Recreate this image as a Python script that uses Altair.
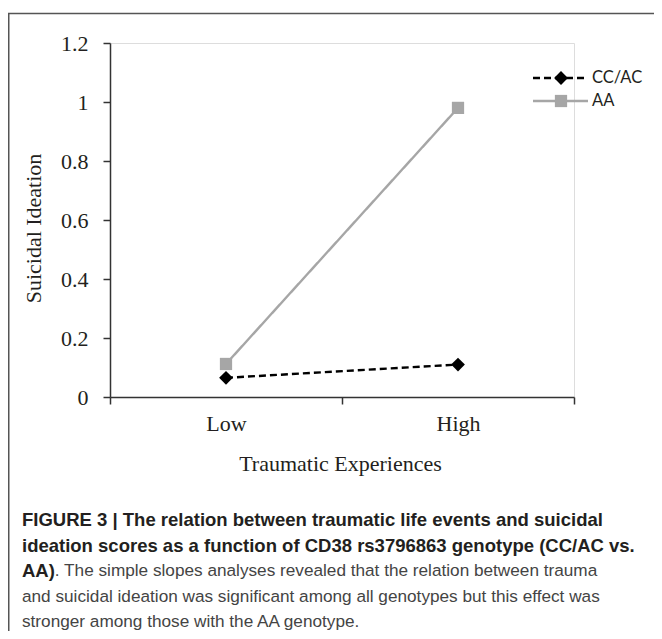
import altair as alt
import pandas as pd

# ---- data ----
trauma_levels = ["Low", "High"]
genotypes = ["CC/AC", "AA"]
cc_ac_values = [0.065, 0.11]
aa_values = [0.112, 0.98]
y_ticks = [0, 0.2, 0.4, 0.6, 0.8, 1.0, 1.2]

caption_bold = [
    "FIGURE 3 | The relation between traumatic life events and suicidal",
    "ideation scores as a function of CD38 rs3796863 genotype (CC/AC vs.",
]
caption_bold_start = "AA)"
caption_normal = [
    ". The simple slopes analyses revealed that the relation between trauma",
    "and suicidal ideation was significant among all genotypes but this effect was",
    "stronger among those with the AA genotype.",
]

rows = []
for t, v in zip(trauma_levels, cc_ac_values):
    rows.append({"trauma": t, "genotype": "CC/AC", "value": v})
for t, v in zip(trauma_levels, aa_values):
    rows.append({"trauma": t, "genotype": "AA", "value": v})
df = pd.DataFrame(rows)
leg_df = pd.DataFrame({"genotype": genotypes})

# ---- layout (plot area in page px: x 110..574, y 43..397) ----
W, H = 464, 354
PL, PT = 110, 43

SERIF = "Liberation Serif"
SANS = "Liberation Sans"

color_scale = alt.Scale(domain=genotypes, range=["#000000", "#a6a6a6"])
dash_scale = alt.Scale(domain=genotypes, range=[[7, 4], [1, 0]])
shape_scale = alt.Scale(domain=genotypes, range=["diamond", "square"])
size_scale = alt.Scale(domain=genotypes, range=[190, 150])

x_enc = alt.X(
    "trauma:N", sort=trauma_levels,
    scale=alt.Scale(type="band", paddingInner=0, paddingOuter=0),
    axis=alt.Axis(
        title="Traumatic Experiences", titleFont=SERIF, titleFontSize=22,
        titleFontWeight="normal", titleColor="#231f20",
        titleX=340 - PL, titleY=463 - 397, titleBaseline="middle",
        labelFont=SERIF, labelFontSize=22, labelColor="#231f20", labelAngle=0,
        labelBaseline="middle", labelPadding=19,
        tickBand="extent", tickSize=7, tickColor="#333333", tickWidth=1.5,
        domainColor="#333333", domainWidth=1.5, grid=False,
    ),
)
y_enc = alt.Y(
    "value:Q",
    scale=alt.Scale(domain=[0, 1.2], nice=False, zero=True),
    axis=alt.Axis(
        values=y_ticks, format="~g",
        title="Suicidal Ideation", titleFont=SERIF, titleFontSize=22,
        titleFontWeight="normal", titleColor="#231f20",
        titleX=33 - PL, titleY=228 - PT, titleAngle=270,
        titleAlign="center", titleBaseline="middle",
        labelFont=SERIF, labelFontSize=22, labelColor="#231f20", labelPadding=15,
        tickSize=7, tickColor="#333333", tickWidth=1.5,
        domainColor="#333333", domainWidth=1.5, grid=False,
    ),
)

line = alt.Chart(df).mark_line(strokeWidth=2.4).encode(
    x=x_enc, y=y_enc,
    color=alt.Color("genotype:N", scale=color_scale, legend=None),
    strokeDash=alt.StrokeDash("genotype:N", scale=dash_scale, legend=None),
)
points = alt.Chart(df).mark_point(filled=True, opacity=1).encode(
    x=x_enc, y=y_enc,
    color=alt.Color("genotype:N", scale=color_scale, legend=None),
    shape=alt.Shape("genotype:N", scale=shape_scale, legend=None),
    size=alt.Size("genotype:N", scale=size_scale, legend=None),
)
main = alt.layer(line, points)

# ---- legend ----
y_leg = alt.Y("genotype:N", sort=genotypes,
              scale=alt.Scale(type="point", range=[78 - PT, 101 - PT], padding=0),
              axis=None)
leg_rule = alt.Chart(leg_df).mark_rule(strokeWidth=2.4).encode(
    x=alt.value(533 - PL), x2=alt.value(588 - PL), y=y_leg,
    color=alt.Color("genotype:N", scale=color_scale, legend=None),
    strokeDash=alt.StrokeDash("genotype:N", scale=dash_scale, legend=None),
)
leg_pt = alt.Chart(leg_df).mark_point(filled=True, opacity=1).encode(
    x=alt.value(561 - PL), y=y_leg,
    color=alt.Color("genotype:N", scale=color_scale, legend=None),
    shape=alt.Shape("genotype:N", scale=shape_scale, legend=None),
    size=alt.Size("genotype:N", scale=size_scale, legend=None),
)
leg_txt = alt.Chart(leg_df).mark_text(
    align="left", baseline="middle", font="Lato", fontSize=16.5, color="#231f20"
).encode(x=alt.value(592 - PL), y=y_leg, text="genotype:N")
legend = alt.layer(leg_rule, leg_pt, leg_txt)

# ---- frame lines ----
one = pd.DataFrame({"k": [0]})
frame_top = alt.Chart(one).mark_rule(color="#555555", strokeWidth=1.5).encode(
    x=alt.value(8 - PL), x2=alt.value(W + 100), y=alt.value(13.5 - PT))
frame_left = alt.Chart(one).mark_rule(color="#555555", strokeWidth=1.5).encode(
    x=alt.value(8.75 - PL), y=alt.value(13 - PT), y2=alt.value(H + 260))

# ---- caption ----
CX = 22 - PL
BOLD_SIZE = 18.5
NORM_SIZE = 17.2
cap_layers = []
cap_y = [520, 546]
for txt, yy in zip(caption_bold, cap_y):
    cap_layers.append(
        alt.Chart(pd.DataFrame({"t": [txt]})).mark_text(
            align="left", baseline="middle", font=SANS, fontSize=BOLD_SIZE,
            fontWeight="bold", color="#231f20"
        ).encode(x=alt.value(CX), y=alt.value(yy - PT), text="t:N"))
cap_layers.append(
    alt.Chart(pd.DataFrame({"t": [caption_bold_start]})).mark_text(
        align="left", baseline="middle", font=SANS, fontSize=BOLD_SIZE,
        fontWeight="bold", color="#231f20"
    ).encode(x=alt.value(CX), y=alt.value(571 - PT), text="t:N"))
norm_y = [571, 597, 622]
norm_x = [CX + 1.777 * BOLD_SIZE, CX, CX]
for txt, yy, xx in zip(caption_normal, norm_y, norm_x):
    cap_layers.append(
        alt.Chart(pd.DataFrame({"t": [txt]})).mark_text(
            align="left", baseline="middle", font=SANS, fontSize=NORM_SIZE,
            color="#444444"
        ).encode(x=alt.value(xx), y=alt.value(yy - PT), text="t:N"))

chart = alt.layer(main, legend, frame_top, frame_left, *cap_layers).resolve_scale(
    y="independent"
).properties(
    width=W, height=H,
    autosize=alt.AutoSizeParams(type="none"),
    padding={"left": PL - 8, "top": PT - 8, "right": 646 - (PL - 8) - W,
             "bottom": 623 - (PT - 8) - H},
).configure_view(stroke=None).configure(background="white")

chart.save("out.html", embed_options={"renderer": "svg", "actions": False})
